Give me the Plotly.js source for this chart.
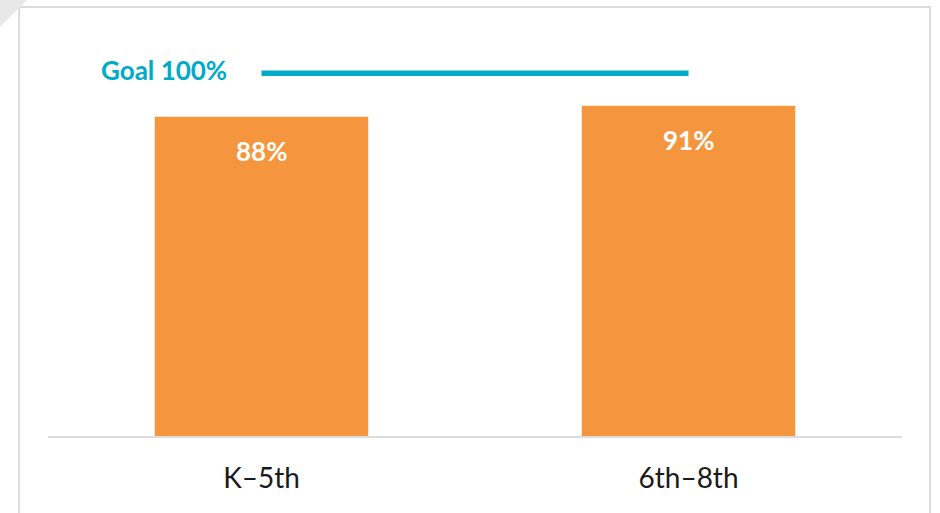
<!DOCTYPE html>
<html>
<head>
<meta charset="utf-8">
<script src="https://cdn.plot.ly/plotly-3.0.1.min.js"></script>
<style>html,body{margin:0;padding:0;background:#fff;}#chart{width:940px;height:513px;}</style>
</head>
<body>
<div id="chart"></div>
<script>
const categories = ["K\u20135th", "6th\u20138th"];
const values = [88, 91];
const valueLabels = ["88%", "91%"];
const goalValue = 100;
const goalLabel = "Goal 100%";

const W = 940, H = 513;
const M = {l: 48, r: 38, t: 55, b: 77};
const pw = W - M.l - M.r, ph = H - M.t - M.b;
const px = x => (x - M.l) / pw;
const py = y => (H - M.b - y) / ph;

const orange = "#f5963e";
const teal = "#00aac8";

const traces = [
  {
    type: "bar",
    x: categories,
    y: values,
    width: 0.5,
    marker: {color: orange},
    hoverinfo: "skip"
  },
  {
    type: "scatter",
    mode: "lines",
    x: categories,
    y: categories.map(() => goalValue),
    line: {color: teal, width: 5.5},
    hoverinfo: "skip"
  }
];

const annotations = categories.map((c, i) => ({
  x: c, y: values[i], xref: "x", yref: "y",
  text: "<b>" + valueLabels[i] + "</b>",
  showarrow: false, yanchor: "middle", yshift: -34,
  font: {family: "Lato, 'Open Sans', sans-serif", size: 26, color: "#ffffff"}
}));
annotations.push({
  x: px(229), xref: "paper", xanchor: "right",
  y: goalValue, yref: "y", yanchor: "middle", yshift: 3,
  text: "<b>" + goalLabel + "</b>",
  showarrow: false,
  font: {family: "Lato, 'Open Sans', sans-serif", size: 26, color: teal}
});

const layout = {
  width: W, height: H,
  margin: M,
  paper_bgcolor: "#ffffff",
  plot_bgcolor: "#ffffff",
  showlegend: false,
  xaxis: {
    type: "category",
    showline: true, linecolor: "#dcdcdc", linewidth: 2,
    showgrid: false, zeroline: false, ticks: "",
    ticklabelstandoff: 16,
    tickfont: {family: "Lato, 'Open Sans', sans-serif", size: 28, color: "#1a1a1a"}
  },
  yaxis: {
    range: [0, 105],
    visible: false, fixedrange: true
  },
  annotations: annotations,
  shapes: [
    {type: "rect", xref: "paper", yref: "paper",
     x0: px(19), x1: px(930), y0: py(7), y1: py(540),
     line: {color: "#dcdcdc", width: 2}, fillcolor: "rgba(0,0,0,0)", layer: "below"},
    {type: "path", xref: "paper", yref: "paper",
     path: "M " + px(0) + " " + py(0) + " L " + px(27) + " " + py(0) + " L " + px(0) + " " + py(27) + " Z",
     line: {width: 0}, fillcolor: "#e8e8e8", layer: "above"}
  ]
};

Plotly.newPlot("chart", traces, layout, {staticPlot: true, displayModeBar: false});
</script>
</body>
</html>
